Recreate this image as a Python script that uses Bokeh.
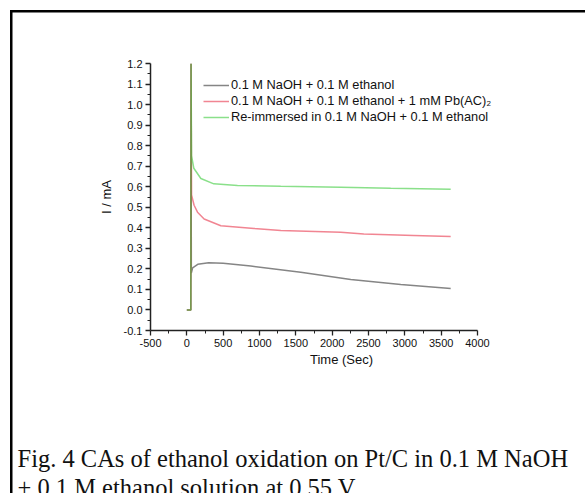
from bokeh.plotting import figure
from bokeh.models import (Legend, LegendItem, Title, Range1d,
                          FixedTicker, NumeralTickFormatter)
from bokeh.embed import file_html
from bokeh.resources import INLINE

# ---- data ----
t_black = [0, 40, 55, 58, 62, 80, 150, 300, 500, 880, 1568, 2256, 2944, 3631]
i_black = [0.0, 0.0, 0.0, 1.2, 0.18, 0.205, 0.222, 0.23, 0.227, 0.214, 0.184, 0.148, 0.124, 0.104]

t_red = [0, 40, 55, 58, 65, 100, 147, 238, 468, 925, 1293, 2118, 2435, 3122, 3631]
i_red = [0.0, 0.0, 0.0, 1.2, 0.56, 0.51, 0.476, 0.443, 0.41, 0.397, 0.387, 0.378, 0.37, 0.363, 0.358]

t_green = [0, 40, 55, 58, 65, 96, 193, 371, 697, 1293, 2118, 2806, 3631]
i_green = [0.0, 0.0, 0.0, 1.2, 0.75, 0.69, 0.64, 0.614, 0.606, 0.602, 0.598, 0.592, 0.588]

x_ticks = [-500, 0, 500, 1000, 1500, 2000, 2500, 3000, 3500, 4000]
x_minor = [-250, 250, 750, 1250, 1750, 2250, 2750, 3250, 3750]
y_ticks = [-0.1, 0.0, 0.1, 0.2, 0.3, 0.4, 0.5, 0.6, 0.7, 0.8, 0.9, 1.0, 1.1, 1.2]
y_minor = [-0.05, 0.05, 0.15, 0.25, 0.35, 0.45, 0.55, 0.65, 0.75, 0.85, 0.95, 1.05, 1.15]

labels = ["0.1 M NaOH + 0.1 M ethanol",
          "0.1 M NaOH + 0.1 M ethanol + 1 mM Pb(AC)\u2082",
          "Re-immersed in 0.1 M NaOH + 0.1 M ethanol"]
x_label = "Time (Sec)"
y_label = "I / mA"
caption1 = "Fig. 4 CAs of ethanol oxidation on Pt/C in 0.1 M NaOH"
caption2 = "+ 0.1 M ethanol solution at 0.55 V."

# axis spans 327 px for -500..4000; the frame is widened to the right (axis
# line bounded at 4000) so that the legend, which overhangs, is not clipped
AXIS_PX = 327
FRAME_PX = 382
x_lo, x_hi = x_ticks[0], x_ticks[-1]
x_end = x_lo + FRAME_PX * (x_hi - x_lo) / AXIS_PX

p = figure(frame_width=FRAME_PX, frame_height=267, output_backend="svg", toolbar_location=None,
           x_range=Range1d(x_lo, x_end), y_range=Range1d(y_ticks[0], y_ticks[-1]),
           min_border_left=150, min_border_right=585 - 150 - FRAME_PX,
           min_border_top=63, min_border_bottom=0)
p.outline_line_color = None
p.xgrid.visible = False
p.ygrid.visible = False
p.background_fill_color = "white"
p.border_fill_color = None
# frame box around the whole figure (left and top edges visible)
p.styles = {
    "background-color": "white",
    "background-image": "linear-gradient(#000, #000), linear-gradient(#000, #000)",
    "background-size": "2.5px 100%, 100% 2.5px",
    "background-position": "10px 10px, 10px 10px",
    "background-repeat": "no-repeat",
}

font = "Liberation Sans"
for ax in (p.xaxis[0], p.yaxis[0]):
    ax.axis_line_color = "#222222"
    ax.axis_line_width = 1.5
    ax.major_tick_line_color = "#222222"
    ax.minor_tick_line_color = "#222222"
    ax.major_tick_line_width = 1.3
    ax.minor_tick_line_width = 1.0
    ax.major_tick_in = 0
    ax.major_tick_out = 5
    ax.minor_tick_in = 0
    ax.minor_tick_out = 3
    ax.major_label_text_font = font
    ax.major_label_text_font_size = "11px"
    ax.major_label_text_color = "#111111"
    ax.axis_label_text_font = font
    ax.axis_label_text_font_size = "13px"
    ax.axis_label_text_font_style = "normal"
    ax.axis_label_text_color = "#111111"
    ax.major_label_standoff = 3

p.xaxis[0].bounds = (x_lo, x_hi)
p.xaxis[0].ticker = FixedTicker(ticks=x_ticks, minor_ticks=x_minor)
p.yaxis[0].ticker = FixedTicker(ticks=y_ticks, minor_ticks=y_minor)
p.xaxis[0].formatter = NumeralTickFormatter(format="0")
p.yaxis[0].formatter = NumeralTickFormatter(format="0.0")
p.xaxis[0].axis_label = x_label
p.yaxis[0].axis_label = y_label
p.xaxis[0].axis_label_standoff = 2
p.yaxis[0].axis_label_standoff = 7

r_black = p.line(t_black, i_black, line_color="#333333", line_width=1.5, line_alpha=0.6)
r_red = p.line(t_red, i_red, line_color="#e8344a", line_width=1.5, line_alpha=0.6)
r_green = p.line(t_green, i_green, line_color="#3ccc3c", line_width=1.5, line_alpha=0.6)

legend = Legend(items=[LegendItem(label=labels[0], renderers=[r_black]),
                       LegendItem(label=labels[1], renderers=[r_red]),
                       LegendItem(label=labels[2], renderers=[r_green])],
                location=(53, 206), padding=0, margin=0, spacing=1,
                glyph_width=26, glyph_height=14, label_height=14,
                label_standoff=2, border_line_color=None,
                background_fill_alpha=0,
                label_text_font=font, label_text_font_size="12.8px",
                label_text_color="#111111")
p.add_layout(legend, "center")

# spacer between the x axis and the caption, then the two caption lines
p.add_layout(Title(text=" ", text_font_size="1px", standoff=72), "below")
for txt in (caption1, caption2):
    p.add_layout(Title(text=txt, align="left", offset=-133, standoff=0,
                       vertical_align="top",
                       text_font="Liberation Serif", text_font_size="24.5px",
                       text_font_style="normal", text_color="#111111"), "below")

open("out.html", "w").write(file_html(p, INLINE))
